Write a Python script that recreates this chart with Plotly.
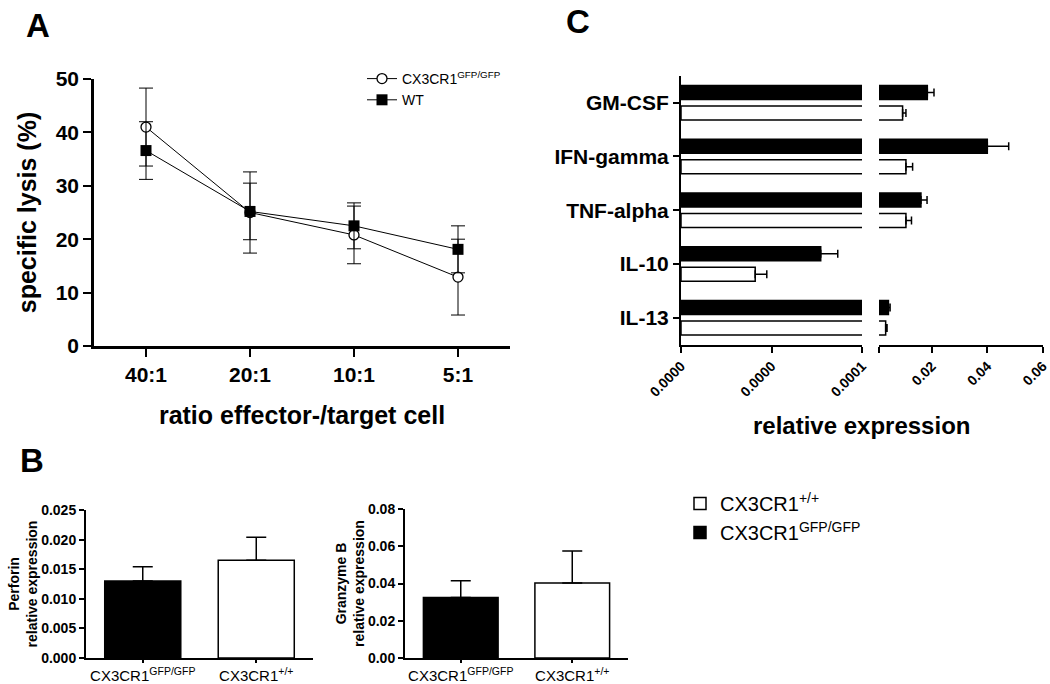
import plotly.graph_objects as go

# ---------------- data ----------------
ratios = ["40:1", "20:1", "10:1", "5:1"]
lysis_ko = [41.0, 25.0, 20.8, 12.9]
lysis_ko_err = [7.3, 7.6, 5.4, 7.1]
lysis_wt = [36.6, 25.2, 22.5, 18.1]
lysis_wt_err = [5.4, 5.3, 4.3, 4.4]

genotypes = ["CX3CR1<sup>GFP/GFP</sup>", "CX3CR1<sup>+/+</sup>"]
perforin = [0.0130, 0.0165]
perforin_err = [0.0024, 0.0039]
granzyme = [0.0325, 0.0403]
granzyme_err = [0.0090, 0.0172]

cytokines = ["GM-CSF", "IFN-gamma", "TNF-alpha", "IL-10", "IL-13"]
expr_wt = [0.0095, 0.0107, 0.0107, 0.0000410, 0.0034]
err_wt = [0.0012, 0.0024, 0.0020, 0.0000064, 0.0005]
expr_ko = [0.0184, 0.0400, 0.0161, 0.0000772, 0.0044]
err_ko = [0.0024, 0.0077, 0.0022, 0.0000094, 0.0006]

left_ticks = [0, 0.00005, 0.0001]
left_ticktext = ["0.0000", "0.0000", "0.0001"]
right_ticks = [0.001, 0.02, 0.04, 0.06]
right_ticktext = ["", "0.02", "0.04", "0.06"]

FONT = "Arial, Liberation Sans, sans-serif"
W, H = 1050, 684


def px(x0, x1):
    return [x0 / W, x1 / W]


def py(ytop, ybot):
    return [1 - ybot / H, 1 - ytop / H]


fig = go.Figure()

# ---------------- panel A ----------------
fig.add_trace(go.Scatter(
    x=ratios, y=lysis_ko, name="CX3CR1<sup>GFP/GFP</sup>", mode="lines+markers",
    line=dict(color="black", width=1),
    marker=dict(symbol="circle", size=10, color="white", line=dict(color="black", width=1.3)),
    error_y=dict(type="data", array=lysis_ko_err, color="black", thickness=1, width=7),
    xaxis="x", yaxis="y", legend="legend"))
fig.add_trace(go.Scatter(
    x=ratios, y=lysis_wt, name="WT", mode="lines+markers",
    line=dict(color="black", width=1),
    marker=dict(symbol="square", size=11, color="black"),
    error_y=dict(type="data", array=lysis_wt_err, color="black", thickness=1, width=7),
    xaxis="x", yaxis="y", legend="legend"))

# ---------------- panel B ----------------
fig.add_trace(go.Bar(
    x=genotypes, y=perforin, width=0.67,
    marker=dict(color=["black", "white"], line=dict(color="black", width=1.5)),
    error_y=dict(type="data", symmetric=False, array=perforin_err, arrayminus=[0, 0],
                 color="black", thickness=1.5, width=10),
    xaxis="x2", yaxis="y2", showlegend=False))
fig.add_trace(go.Bar(
    x=genotypes, y=granzyme, width=0.67,
    marker=dict(color=["black", "white"], line=dict(color="black", width=1.5)),
    error_y=dict(type="data", symmetric=False, array=granzyme_err, arrayminus=[0, 0],
                 color="black", thickness=1.5, width=10),
    xaxis="x3", yaxis="y3", showlegend=False))

# ---------------- panel C (broken axis) ----------------
zeros = [0] * len(cytokines)
for xa, show in (("x4", False), ("x5", True)):
    fig.add_trace(go.Bar(
        y=cytokines, x=expr_wt, orientation="h", name="CX3CR1<sup>+/+</sup>",
        offset=0.06, width=0.26,
        marker=dict(color="white", line=dict(color="black", width=1.5)),
        error_x=dict(type="data", symmetric=False, array=err_wt, arrayminus=zeros,
                     color="black", thickness=1.5, width=4),
        xaxis=xa, yaxis="y4", showlegend=show, legend="legend2"))
    fig.add_trace(go.Bar(
        y=cytokines, x=expr_ko, orientation="h", name="CX3CR1<sup>GFP/GFP</sup>",
        offset=-0.32, width=0.26,
        marker=dict(color="black", line=dict(color="black", width=1.5)),
        error_x=dict(type="data", symmetric=False, array=err_ko, arrayminus=zeros,
                     color="black", thickness=1.5, width=4),
        xaxis=xa, yaxis="y4", showlegend=show, legend="legend2"))

axis_common = dict(showline=True, linecolor="black", showgrid=False, zeroline=False,
                   ticks="outside", tickcolor="black", automargin=False,
                   ticklabeloverflow="allow")

fig.update_layout(
    width=W, height=H, margin=dict(l=0, r=0, t=0, b=0, autoexpand=False),
    paper_bgcolor="white", plot_bgcolor="white",
    font=dict(family=FONT, color="black"),
    barmode="overlay",
    xaxis=dict(**axis_common, domain=px(94, 510), anchor="y", type="category",
               range=[-0.5, 3.5], linewidth=2.5, tickwidth=2, ticklen=8,
               tickfont=dict(size=21, weight="bold"),
               title=dict(text="ratio effector-/target cell", font=dict(size=25, weight="bold"),
                          standoff=22)),
    yaxis=dict(**axis_common, domain=py(79, 346), anchor="x", range=[0, 50], dtick=10,
               linewidth=2.5, tickwidth=2, ticklen=8,
               tickfont=dict(size=21, weight="bold"),
               title=dict(text="specific lysis (%)", font=dict(size=25, weight="bold"),
                          standoff=12)),
    xaxis2=dict(**axis_common, domain=px(86, 313), anchor="y2", type="category",
                range=[-0.5, 1.5], linewidth=2, tickwidth=2, ticklen=3,
                tickfont=dict(size=15)),
    yaxis2=dict(**axis_common, domain=py(510, 658), anchor="x2", range=[0, 0.025],
                dtick=0.005, tickformat=".3f", linewidth=2, tickwidth=2, ticklen=5,
                tickfont=dict(size=14, weight="bold"),
                title=dict(text="Perforin<br>relative expression",
                           font=dict(size=14, weight="bold"), standoff=0)),
    xaxis3=dict(**axis_common, domain=px(405, 628), anchor="y3", type="category",
                range=[-0.5, 1.5], linewidth=2, tickwidth=2, ticklen=3,
                tickfont=dict(size=15)),
    yaxis3=dict(**axis_common, domain=py(509, 658), anchor="x3", range=[0, 0.08],
                dtick=0.02, tickformat=".2f", linewidth=2, tickwidth=2, ticklen=5,
                tickfont=dict(size=14, weight="bold"),
                title=dict(text="Granzyme B<br>relative expression",
                           font=dict(size=14, weight="bold"), standoff=0)),
    xaxis4=dict(**axis_common, domain=px(681, 862), anchor="y4", range=[0, 0.0001],
                tickvals=left_ticks, ticktext=left_ticktext, tickangle=-45,
                linewidth=2, tickwidth=2, ticklen=6,
                tickfont=dict(size=14, weight="bold")),
    xaxis5=dict(**axis_common, domain=px(879, 1043), anchor="y4", range=[0.001, 0.06005],
                tickvals=right_ticks, ticktext=right_ticktext, tickangle=-45,
                linewidth=2, tickwidth=2, ticklen=6,
                tickfont=dict(size=14, weight="bold")),
    yaxis4=dict(**axis_common, domain=py(75.8, 344.6), anchor="x4", type="category",
                categoryorder="array", categoryarray=cytokines, range=[4.5, -0.5],
                linewidth=2, tickwidth=2, ticklen=6,
                tickfont=dict(size=21, weight="bold")),
    legend=dict(x=362 / W, y=1 - 63 / H, xanchor="left", yanchor="top",
                bgcolor="rgba(0,0,0,0)", font=dict(size=14), tracegroupgap=0),
    legend2=dict(x=680 / W, y=1 - 484 / H, xanchor="left", yanchor="top",
                 bgcolor="rgba(0,0,0,0)", font=dict(size=20), traceorder="normal"),
    annotations=[
        dict(text="A", x=38 / W, y=1 - 26 / H, xref="paper", yref="paper", showarrow=False,
             xanchor="center", yanchor="middle", font=dict(size=33, weight="bold")),
        dict(text="B", x=32 / W, y=1 - 461 / H, xref="paper", yref="paper", showarrow=False,
             xanchor="center", yanchor="middle", font=dict(size=33, weight="bold")),
        dict(text="C", x=578 / W, y=1 - 21.5 / H, xref="paper", yref="paper", showarrow=False,
             xanchor="center", yanchor="middle", font=dict(size=33, weight="bold")),
        dict(text="relative expression", x=861 / W, y=1 - 425 / H, xref="paper", yref="paper",
             showarrow=False, xanchor="center", yanchor="middle",
             font=dict(size=24, weight="bold")),
    ],
)

fig.write_html("out.html", config={"displayModeBar": False},
               post_script="document.body.style.margin='0';")
